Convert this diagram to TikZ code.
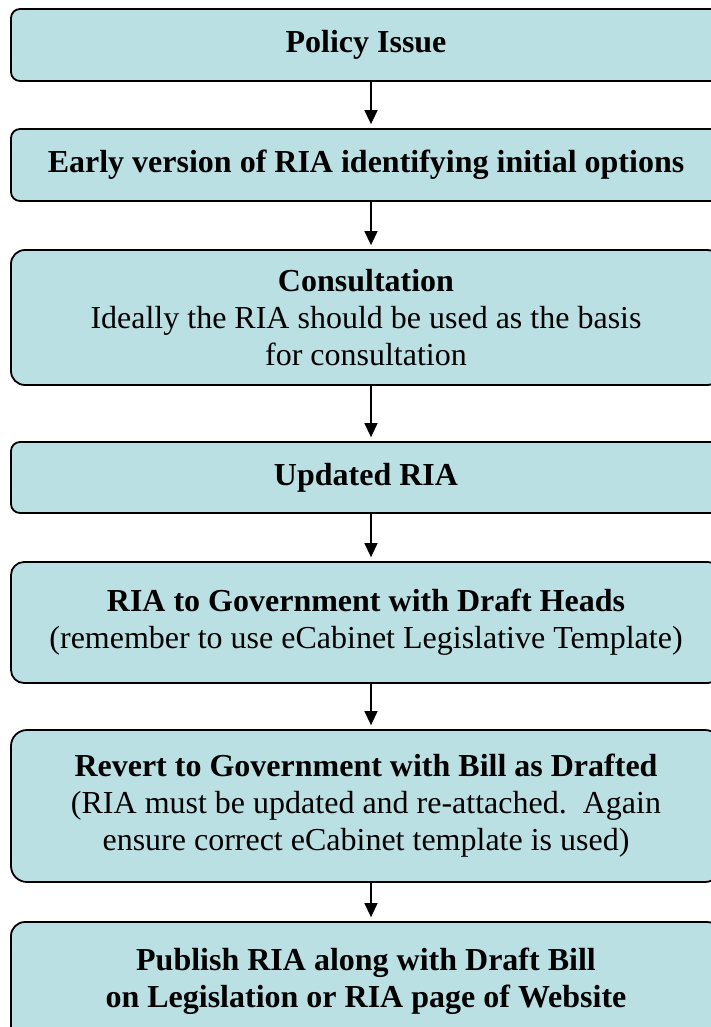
\documentclass[tikz,border=0pt]{standalone}
\usepackage{fontspec}
\setmainfont{Liberation Serif}
\usetikzlibrary{arrows.meta}
\definecolor{boxfill}{RGB}{187,224,227}
\tikzset{
  flowbox/.style={draw=black, line width=1.8pt, fill=boxfill, rounded corners=#1,
    minimum width=710pt, inner sep=0pt, align=center,
    font=\fontsize{32}{37}\selectfont},
  flowarrow/.style={line width=1.5pt, -{Triangle[width=13pt,length=14pt]}, shorten >=4pt}
}
\begin{document}
\begin{tikzpicture}[x=1pt,y=-1pt]
\useasboundingbox (0,0) rectangle (711,1027);
\clip (0,0) rectangle (711,1027);
\node[flowbox=9pt, minimum height=72pt] (b1) at (366,45) {\textbf{Policy Issue}};
\node[flowbox=9pt, minimum height=72pt] (b2) at (366,165) {\textbf{Early version of RIA identifying initial options}};
\node[flowbox=14pt, minimum height=135pt] (b3) at (366,317.5) {\textbf{Consultation}\\Ideally the RIA should be used as the basis\\for consultation};
\node[flowbox=9pt, minimum height=71pt] (b4) at (366,477.5) {\textbf{Updated RIA}};
\node[flowbox=13pt, minimum height=121pt] (b5) at (366,622.5) {\textbf{RIA to Government with Draft Heads}\\(remember to use eCabinet Legislative Template)};
\node[flowbox=16pt, minimum height=152pt] (b6) at (366,806) {\textbf{Revert to Government with Bill as Drafted}\\(RIA must be updated and re-attached.\ \ Again\\ensure correct eCabinet template is used)};
\node[flowbox=14pt, minimum height=118pt] (b7) at (366,981) {\textbf{Publish RIA along with Draft Bill}\\\textbf{on Legislation or RIA page of Website}};
\foreach \a/\b in {b1/b2,b2/b3,b3/b4,b4/b5,b5/b6,b6/b7}
  \draw[flowarrow] ([xshift=5pt]\a.south) -- ([xshift=5pt]\b.north);
\end{tikzpicture}
\end{document}
